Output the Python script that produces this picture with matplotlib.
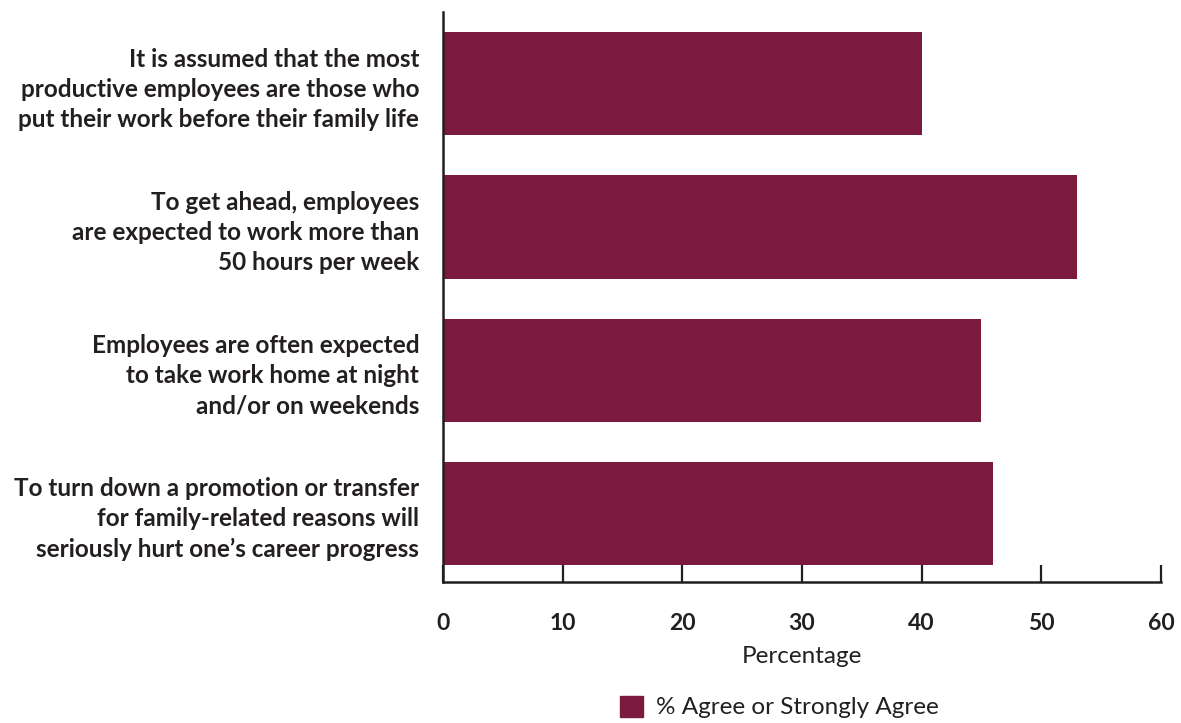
import matplotlib
matplotlib.use('Agg')
import matplotlib.pyplot as plt
from matplotlib.patches import Patch

plt.rcParams['font.family'] = ['Lato', 'DejaVu Sans']

# data
statements = [
    "It is assumed that the most\nproductive employees are those who\nput their work before their family life",
    "To get ahead, employees\nare expected to work more than\n50 hours per week",
    "Employees are often expected\nto take work home at night\nand/or on weekends",
    "To turn down a promotion or transfer\nfor family-related reasons will\nseriously hurt one\u2019s career progress",
]
agree_pct = [40, 53, 45, 46]
xticks = [0, 10, 20, 30, 40, 50, 60]
series_name = "% Agree or Strongly Agree"

bar_color = '#7B193F'
txt = '#231f20'

fig = plt.figure(figsize=(11.81, 7.23), dpi=100)
ax = fig.add_axes([0.375, 0.195, 0.608, 0.788])

ypos = list(range(len(statements)))
ax.barh(ypos, agree_pct, height=0.72, color=bar_color)

ax.set_xlim(0, 60)
ax.set_ylim(3.48, -0.5)
ax.set_xticks(xticks)
ax.set_xticklabels([str(t) for t in xticks], fontsize=16.5, fontweight='bold', color=txt)
ax.tick_params(axis='x', direction='in', length=12, width=1.6, pad=22, colors=txt)
ax.set_yticks(ypos)
ax.set_yticklabels(statements, fontsize=17.5, fontweight='bold', color=txt,
                   linespacing=1.38)
ax.tick_params(axis='y', length=0, pad=17)

for s in ['top', 'right']:
    ax.spines[s].set_visible(False)
for s in ['left', 'bottom']:
    ax.spines[s].set_linewidth(1.8)
    ax.spines[s].set_color(txt)

ax.set_xlabel('Percentage', fontsize=17.5, color=txt, labelpad=9)

fig.legend(handles=[Patch(color=bar_color, label=series_name)],
           loc='center', bbox_to_anchor=(0.66, 1 - 707 / 723), frameon=False,
           fontsize=17.5, handlelength=0.95, handleheight=0.95, handletextpad=0.55,
           labelcolor=txt)

fig.savefig('out.png', dpi=100)
